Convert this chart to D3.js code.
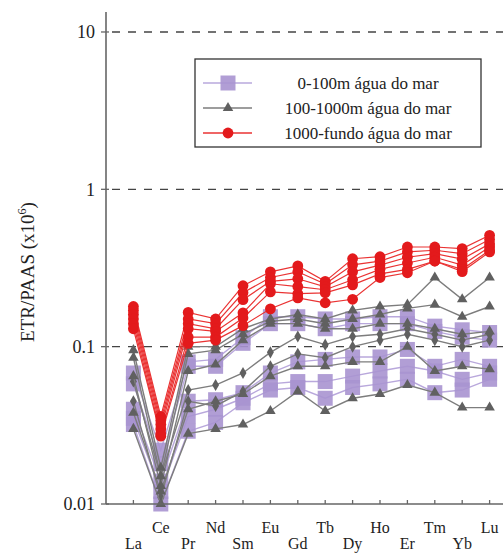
<!DOCTYPE html>
<html><head><meta charset="utf-8">
<script src="https://cdn.jsdelivr.net/npm/d3@7/dist/d3.min.js"></script>
<style>body{margin:0;background:#fff}svg{display:block}text{font-family:"Liberation Serif","DejaVu Serif",serif}</style>
</head><body>
<svg id="c" width="503" height="553"></svg>
<script>
const elements = ["La","Ce","Pr","Nd","Sm","Eu","Gd","Tb","Dy","Ho","Er","Tm","Yb","Lu"];
const yTicks = [0.01, 0.1, 1, 10];
const yTickLabels = ["0.01","0.1","1","10"];
const legendLabels = ["0-100m água do mar","100-1000m água do mar","1000-fundo água do mar"];

// 0-100m seawater (purple squares)
const shallow = [
  [0.068,0.022,0.080,0.083,0.114,0.155,0.155,0.150,0.150,0.155,0.155,0.135,0.128,0.123],
  [0.058,0.018,0.075,0.075,0.105,0.140,0.140,0.130,0.140,0.140,0.140,0.125,0.115,0.110],
  [0.040,0.014,0.045,0.046,0.051,0.068,0.080,0.083,0.086,0.086,0.096,0.075,0.083,0.075],
  [0.035,0.012,0.036,0.040,0.047,0.058,0.060,0.060,0.065,0.070,0.075,0.070,0.062,0.068],
  [0.032,0.010,0.029,0.033,0.044,0.053,0.055,0.047,0.055,0.058,0.062,0.051,0.053,0.062]
];
// 100-1000m seawater (grey triangles)
const middle = [
  [0.095,0.017,0.100,0.100,0.130,0.150,0.160,0.150,0.170,0.180,0.185,0.275,0.200,0.275],
  [0.085,0.015,0.090,0.095,0.120,0.145,0.150,0.140,0.150,0.160,0.175,0.185,0.155,0.180],
  [0.065,0.013,0.070,0.077,0.110,0.140,0.140,0.130,0.130,0.140,0.140,0.130,0.120,0.125],
  [0.038,0.012,0.040,0.045,0.050,0.065,0.075,0.075,0.080,0.080,0.100,0.070,0.075,0.072],
  [0.030,0.010,0.028,0.030,0.032,0.039,0.052,0.039,0.047,0.050,0.057,0.051,0.041,0.041]
];
// 100-1000m seawater (grey diamonds)
const middleB = [
  [0.060,0.015,0.053,0.057,0.068,0.092,0.116,0.103,0.116,0.120,0.130,0.120,0.110,0.120],
  [0.045,0.011,0.045,0.042,0.052,0.075,0.090,0.085,0.100,0.110,0.120,0.110,0.100,0.110]
];
// 1000m-bottom seawater (red circles)
const deep = [
  [0.180,0.036,0.165,0.150,0.244,0.299,0.326,0.260,0.362,0.373,0.430,0.430,0.420,0.510],
  [0.170,0.034,0.150,0.140,0.220,0.275,0.299,0.250,0.331,0.350,0.400,0.410,0.390,0.480],
  [0.160,0.032,0.140,0.130,0.199,0.260,0.270,0.240,0.299,0.330,0.370,0.390,0.360,0.450],
  [0.150,0.030,0.130,0.125,0.164,0.251,0.241,0.230,0.266,0.310,0.340,0.370,0.330,0.430],
  [0.140,0.028,0.115,0.115,0.152,0.223,0.217,0.220,0.247,0.290,0.310,0.350,0.310,0.410],
  [0.130,0.027,0.105,0.110,0.136,0.174,0.204,0.190,0.200,0.275,0.295,0.350,0.300,0.400]
];

const svg = d3.select("#c");
const pL = 106, pB = 504, pT = 12, pR = 503;
const x = d3.scalePoint().domain(elements).range([133.4, 489.6]);
const y = d3.scaleLog().domain([0.01, Math.pow(10, 1 + 20/157.5)]).range([pB, pT]);

// dashed gridlines
svg.append("g").selectAll("line").data([0.1, 1, 10]).join("line")
  .attr("x1", pL + 6).attr("x2", pR)
  .attr("y1", d => y(d)).attr("y2", d => y(d))
  .attr("stroke", "#444").attr("stroke-width", 1.3).attr("stroke-dasharray", "8,8");

const line = d3.line().x((d, i) => x(elements[i])).y(d => y(d));

function drawGroup(data, lineColor, lineWidth, markerFn) {
  const g = svg.append("g");
  data.forEach(s => {
    g.append("path").attr("d", line(s)).attr("fill", "none")
      .attr("stroke", lineColor).attr("stroke-width", lineWidth);
  });
  data.forEach(s => {
    s.forEach((v, i) => markerFn(g, x(elements[i]), y(v)));
  });
}

const sqColor = "#a894d0", sqLine = "#b9a8dc";
const triColor = "#606060", triLine = "#7d7d7d";
const redColor = "#e31a1c", redLine = "#ea3333";

const square = (g, cx, cy) => g.append("rect").attr("x", cx - 7.5).attr("y", cy - 7.5)
  .attr("width", 15).attr("height", 15).attr("fill", sqColor).attr("opacity", 0.9);
const tri = d3.symbol().type(d3.symbolTriangle).size(48);
const triangle = (g, cx, cy) => g.append("path").attr("d", tri())
  .attr("transform", `translate(${cx},${cy})`).attr("fill", triColor);
const dia = d3.symbol().type(d3.symbolDiamond).size(42);
const diamond = (g, cx, cy) => g.append("path").attr("d", dia())
  .attr("transform", `translate(${cx},${cy})`).attr("fill", triColor);
const circle = (g, cx, cy) => g.append("circle").attr("cx", cx).attr("cy", cy)
  .attr("r", 5.4).attr("fill", redColor);

drawGroup(shallow, sqLine, 1.4, square);
drawGroup(middleB, triLine, 1.4, diamond);
drawGroup(middle, triLine, 1.4, triangle);
drawGroup(deep, redLine, 1.2, circle);

// axes
svg.append("line").attr("x1", pL).attr("x2", pL).attr("y1", pT).attr("y2", pB)
  .attr("stroke", "#666").attr("stroke-width", 1.6);
svg.append("line").attr("x1", pL).attr("x2", pR).attr("y1", pB).attr("y2", pB)
  .attr("stroke", "#666").attr("stroke-width", 1.6);

// y ticks
const yt = svg.append("g");
yTicks.forEach((t, i) => {
  yt.append("line").attr("x1", pL - 5).attr("x2", pL + 3).attr("y1", y(t)).attr("y2", y(t))
    .attr("stroke", "#666").attr("stroke-width", 1.3);
  yt.append("text").attr("x", pL - 11).attr("y", y(t)).attr("dy", "0.35em")
    .attr("text-anchor", "end").attr("font-size", 18).attr("fill", "#222").text(yTickLabels[i]);
});

// x ticks and labels
const xt = svg.append("g");
elements.forEach((e, i) => {
  xt.append("line").attr("x1", x(e)).attr("x2", x(e)).attr("y1", pB).attr("y2", pB - 4)
    .attr("stroke", "#666").attr("stroke-width", 1.3);
  xt.append("text").attr("x", x(e)).attr("y", i % 2 === 1 ? 533 : 549)
    .attr("text-anchor", "middle").attr("font-size", 16).attr("fill", "#222").text(e);
});

// y title
const yl = svg.append("text").attr("transform", "translate(34,272) rotate(-90)")
  .attr("text-anchor", "middle").attr("font-size", 19).attr("fill", "#222");
yl.append("tspan").text("ETR/PAAS (x10");
yl.append("tspan").attr("font-size", 12).attr("dy", -8).text("6");
yl.append("tspan").attr("dy", 8).text(")");

// legend
const lg = svg.append("g");
lg.append("rect").attr("x", 195).attr("y", 59).attr("width", 286).attr("height", 88)
  .attr("fill", "#fff").attr("stroke", "#333").attr("stroke-width", 1.3);
const rows = [83, 108, 133];
const lgLine = [sqLine, triLine, redLine];
const lgMark = [square, triangle, circle];
rows.forEach((ry, i) => {
  lg.append("line").attr("x1", 203).attr("x2", 252).attr("y1", ry).attr("y2", ry)
    .attr("stroke", lgLine[i]).attr("stroke-width", 1.3);
  lgMark[i](lg, 228, ry);
  lg.append("text").attr("x", 368).attr("y", ry).attr("dy", "0.35em").attr("text-anchor", "middle")
    .attr("font-size", 17).attr("fill", "#222").text(legendLabels[i]);
});
</script>
</body></html>
